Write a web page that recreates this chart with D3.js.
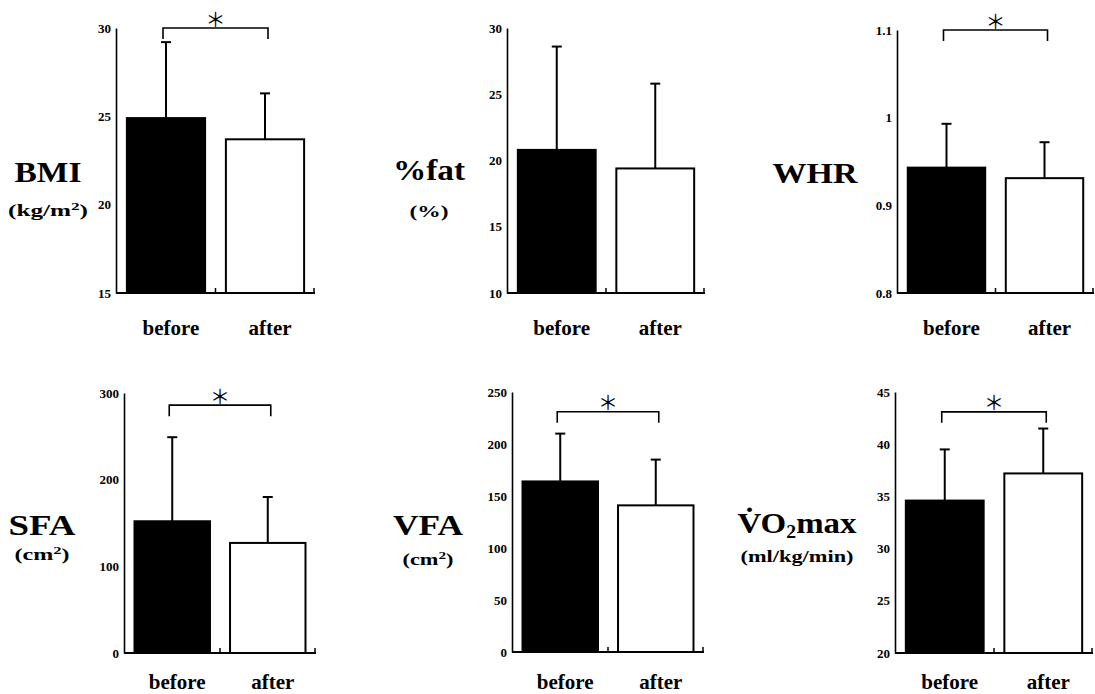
<!DOCTYPE html>
<html>
<head>
<meta charset="utf-8">
<script src="https://cdn.jsdelivr.net/npm/d3@7"></script>
<style>
  body { margin: 0; background: #fff; }
  svg { display: block; }
  .domain { stroke: #000; stroke-width: 1.6px; }
</style>
</head>
<body>
<div id="container"></div>
<script>
/* CONSTANTS AND GLOBALS */
const width = 1095,
  height = 694,
  serif = "Liberation Serif";

/* DATA */
const names = ["BMI", "%fat", "WHR", "SFA", "VFA", "VO2max"];
const units = ["(kg/m²)", "(%)", "", "(cm²)", "(cm²)", "(ml/kg/min)"];
const groups = ["before", "after"];
const means = [[24.9, 23.7], [20.8, 19.4], [0.943, 0.931], [152, 127], [164, 141], [34.6, 37.2]];
const sds = [[4.3, 2.6], [7.8, 6.4], [0.05, 0.041], [97, 53], [46, 44], [4.9, 4.3]];
const yDomains = [[15, 30], [10, 30], [0.8, 1.1], [0, 300], [0, 250], [20, 45]];
const yTicks = [
  [15, 20, 25, 30],
  [10, 15, 20, 25, 30],
  [0.8, 0.9, 1, 1.1],
  [0, 100, 200, 300],
  [0, 50, 100, 150, 200, 250],
  [20, 25, 30, 35, 40, 45]
];
// level of the significance bracket (null = no bracket)
const sigLevels = [30, null, 1.1, 286, 231, 43.1];

// where each little chart sits on the page
const layout = [
  { x0: 116, x1: 315, top: 28, bottom: 293, labelX: 48, nameY: 182, unitY: 216, nameW: 67, unitW: 80 },
  { x0: 507, x1: 705, top: 28, bottom: 293, labelX: 429, nameY: 180, unitY: 217, nameW: 72, unitW: 39 },
  { x0: 897, x1: 1094, top: 30, bottom: 293, labelX: 815, nameY: 183, unitY: 0, nameW: 85, unitW: 0 },
  { x0: 124, x1: 316, top: 393, bottom: 653, labelX: 42, nameY: 535, unitY: 560, nameW: 67, unitW: 55 },
  { x0: 512, x1: 704, top: 392, bottom: 652, labelX: 428, nameY: 535, unitY: 565, nameW: 70, unitW: 51 },
  { x0: 895, x1: 1093, top: 392, bottom: 653, labelX: 797, nameY: 533, unitY: 562, nameW: 119, unitW: 113 }
];

const svg = d3.select("#container")
  .append("svg")
  .attr("width", width)
  .attr("height", height);

names.forEach((name, i) => drawPanel(i));

function drawPanel(i) {
  const L = layout[i];
  const g = svg.append("g");

  const xScale = d3.scaleBand()
    .domain(groups)
    .range([L.x0, L.x1])
    .paddingInner(0.21)
    .paddingOuter(0.11);

  const yScale = d3.scaleLinear()
    .domain(yDomains[i])
    .range([L.bottom, L.top]);

  const rows = groups.map((grp, j) => ({ grp: grp, mean: means[i][j], sd: sds[i][j] }));

  // y axis
  g.append("g")
    .attr("transform", `translate(${L.x0},0)`)
    .call(d3.axisLeft(yScale).tickValues(yTicks[i]).tickSize(0).tickPadding(5).tickFormat(d => String(d)))
    .call(ax => ax.selectAll(".tick text")
      .style("font-family", serif)
      .style("font-weight", "bold")
      .style("font-size", "13px")
      .attr("fill", "#000"));

  // error bars
  const eb = g.selectAll("g.err")
    .data(rows)
    .join("g")
    .attr("class", "err");
  eb.append("line")
    .attr("x1", d => xScale(d.grp) + xScale.bandwidth() / 2)
    .attr("x2", d => xScale(d.grp) + xScale.bandwidth() / 2)
    .attr("y1", d => yScale(d.mean))
    .attr("y2", d => yScale(d.mean + d.sd))
    .attr("stroke", "#000")
    .attr("stroke-width", 2);
  eb.append("line")
    .attr("x1", d => xScale(d.grp) + xScale.bandwidth() / 2 - 5)
    .attr("x2", d => xScale(d.grp) + xScale.bandwidth() / 2 + 5)
    .attr("y1", d => yScale(d.mean + d.sd))
    .attr("y2", d => yScale(d.mean + d.sd))
    .attr("stroke", "#000")
    .attr("stroke-width", 2);

  // bars
  g.selectAll("rect.bar")
    .data(rows)
    .join("rect")
    .attr("class", "bar")
    .attr("x", d => xScale(d.grp))
    .attr("y", d => yScale(d.mean))
    .attr("width", xScale.bandwidth())
    .attr("height", d => yScale(yDomains[i][0]) - yScale(d.mean))
    .attr("fill", d => d.grp === "before" ? "#000" : "#fff")
    .attr("stroke", "#000")
    .attr("stroke-width", 2);

  // x baseline with small upturned ticks at the band edges
  const base = yScale(yDomains[i][0]);
  g.append("line")
    .attr("x1", L.x0).attr("x2", L.x1)
    .attr("y1", base).attr("y2", base)
    .attr("stroke", "#000").attr("stroke-width", 2);
  const mid = xScale("after") - xScale.step() * xScale.paddingInner() / 2;
  [mid, L.x1 - 1].forEach(x => {
    g.append("line")
      .attr("x1", x).attr("x2", x)
      .attr("y1", base).attr("y2", base - 5)
      .attr("stroke", "#000").attr("stroke-width", 1.5);
  });

  // category labels
  g.selectAll("text.cat")
    .data(groups)
    .join("text")
    .attr("class", "cat")
    .attr("x", d => xScale(d) + xScale.bandwidth() / 2 + 5)
    .attr("y", Math.min(base + 42, 689))
    .attr("text-anchor", "middle")
    .style("font-family", serif)
    .style("font-weight", "bold")
    .style("font-size", "21px")
    .text(d => d);

  // significance bracket
  if (sigLevels[i] !== null) {
    const by = yScale(sigLevels[i]);
    const bx1 = xScale("before") + xScale.bandwidth() / 2 - 3;
    const bx2 = xScale("after") + xScale.bandwidth() / 2 + 3;
    g.append("path")
      .attr("d", `M${bx1},${by + 11}V${by}H${bx2}V${by + 11}`)
      .attr("fill", "none")
      .attr("stroke", "#000")
      .attr("stroke-width", 1.6);
    g.append("text")
      .attr("x", (bx1 + bx2) / 2)
      .attr("y", by - 10)
      .attr("text-anchor", "middle")
      .attr("dominant-baseline", "central")
      .style("font-family", "Noto Sans CJK JP")
      .style("font-size", "20px")
      .text("＊");
  }

  // variable name
  const nm = g.append("text")
    .attr("x", L.labelX)
    .attr("y", L.nameY)
    .attr("text-anchor", "middle")
    .style("font-family", serif)
    .style("font-weight", "bold")
    .style("font-size", "30px")
    .attr("textLength", L.nameW)
    .attr("lengthAdjust", "spacingAndGlyphs");
  if (names[i] === "VO2max") {
    nm.append("tspan").text("V\u0307O");
    nm.append("tspan").style("font-size", "18px").attr("dy", 5).text("2");
    nm.append("tspan").attr("dy", -5).text("max");
  } else {
    nm.text(names[i]);
  }

  // unit
  if (units[i] !== "") {
    const un = g.append("text")
      .attr("x", L.labelX)
      .attr("y", L.unitY)
      .attr("text-anchor", "middle")
      .style("font-family", serif)
      .style("font-weight", "bold")
      .style("font-size", "16px")
      .attr("textLength", L.unitW)
      .attr("lengthAdjust", "spacingAndGlyphs");
    const sup = units[i].indexOf("²");
    if (sup >= 0) {
      un.append("tspan").text(units[i].slice(0, sup));
      un.append("tspan").style("font-size", "11px").attr("dy", -6).text("2");
      un.append("tspan").attr("dy", 6).text(units[i].slice(sup + 1));
    } else {
      un.text(units[i]);
    }
  }
}
</script>
</body>
</html>
